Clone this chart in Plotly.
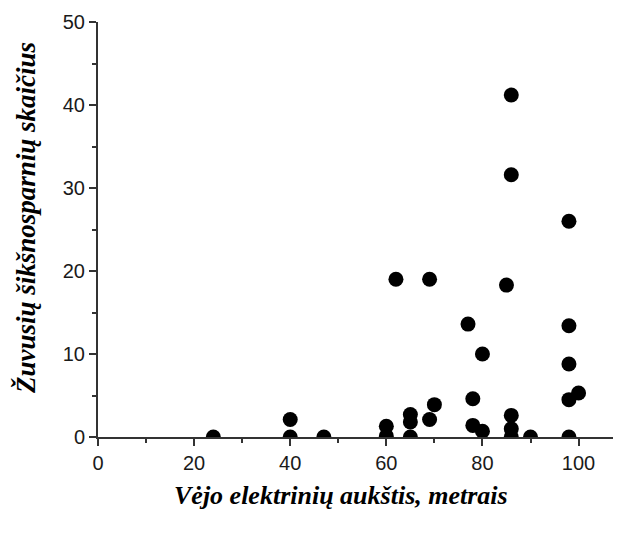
import plotly.graph_objects as go

# Turbine height (m) and number of dead bats
height_m = [24, 40, 40, 47, 60, 60, 62, 65, 65, 65, 69, 69, 70, 77, 78, 78,
            80, 80, 85, 86, 86, 86, 86, 86, 90, 98, 98, 98, 98, 98, 100]
dead_bats = [0, 0, 2.1, 0, 0.1, 1.3, 19.0, 0, 1.8, 2.7, 19.0, 2.1, 3.9, 13.6, 4.6, 1.4,
             0.7, 10.0, 18.3, 41.2, 31.6, 2.6, 1.0, 0, 0, 26.0, 13.4, 8.8, 4.5, 0, 5.3]

x_ticks = [0, 20, 40, 60, 80, 100]
y_ticks = [0, 10, 20, 30, 40, 50]

x_title = "Vėjo elektrinių aukštis, metrais"
y_title = "Žuvusių šikšnosparnių skaičius"

# page body has an 8px default margin; compensate
OFF = 8
W, H = 621 - OFF, 533 - OFF
L, T = 98 - OFF, 22 - OFF
B = H - (437 - OFF)
R = W - (617 - OFF)

fig = go.Figure()
fig.add_trace(go.Scatter(
    x=height_m, y=dead_bats, mode="markers",
    marker=dict(color="black", size=15, line=dict(width=0)),
    cliponaxis=True, showlegend=False,
))

axis_common = dict(
    showgrid=False, zeroline=False, showline=True, linecolor="#333333", linewidth=2,
    ticks="outside", ticklen=7, tickwidth=2, tickcolor="#333333", automargin=False,
    tickfont=dict(family="Liberation Sans, Arial", size=20, color="#1a1a1a"),
)

title_font = dict(family="Liberation Serif, Times New Roman", size=26, color="black")

pw, ph = W - L - R, H - T - B

fig.update_layout(
    width=W, height=H,
    margin=dict(l=L, r=R, t=T, b=B),
    plot_bgcolor="white", paper_bgcolor="white",
    xaxis=dict(
        range=[0, 108], tickvals=x_ticks,
        minor=dict(dtick=10, tick0=0, ticks="outside", ticklen=4, tickwidth=2, tickcolor="#333333"),
        **axis_common,
    ),
    yaxis=dict(
        range=[0, 50], tickvals=y_ticks,
        minor=dict(dtick=5, tick0=0, ticks="outside", ticklen=4, tickwidth=2, tickcolor="#333333"),
        **axis_common,
    ),
    annotations=[
        dict(text=f"<b><i>{x_title}</i></b>", xref="paper", yref="paper",
             x=(341 - OFF - L) / pw, y=-(495 - OFF - (H - B)) / ph,
             xanchor="center", yanchor="middle", showarrow=False, font=title_font),
        dict(text=f"<b><i>{y_title}</i></b>", xref="paper", yref="paper",
             x=-(L - (26 - OFF)) / pw, y=(H - B - (218 - OFF)) / ph,
             xanchor="center", yanchor="middle", textangle=-90, showarrow=False,
             font=dict(family="Liberation Serif, Times New Roman", size=27, color="black")),
    ],
)

fig.write_html("out.html")
